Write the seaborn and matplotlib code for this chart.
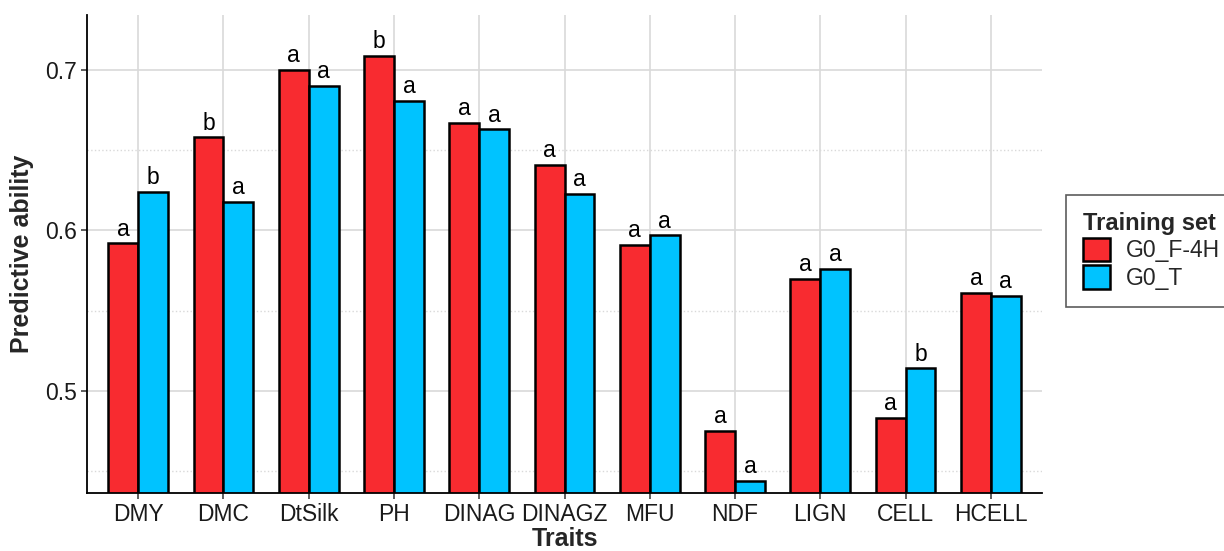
import pandas as pd
import numpy as np
import matplotlib
matplotlib.use("Agg")
import matplotlib.pyplot as plt
import seaborn as sns
from matplotlib.ticker import MultipleLocator

# Data
traits = ["DMY", "DMC", "DtSilk", "PH", "DINAG", "DINAGZ", "MFU", "NDF", "LIGN", "CELL", "HCELL"]
training_sets = ["G0_F-4H", "G0_T"]
g0_f4h = [0.592, 0.658, 0.700, 0.709, 0.667, 0.641, 0.591, 0.475, 0.570, 0.483, 0.561]
g0_t = [0.624, 0.618, 0.690, 0.681, 0.663, 0.623, 0.597, 0.444, 0.576, 0.514, 0.559]
letters_f4h = ["a", "b", "a", "b", "a", "a", "a", "a", "a", "a", "a"]
letters_t = ["b", "a", "a", "a", "a", "a", "a", "a", "a", "b", "a"]

df = pd.DataFrame({
    "Traits": traits * 2,
    "Training set": [training_sets[0]] * len(traits) + [training_sets[1]] * len(traits),
    "Predictive ability": g0_f4h + g0_t,
})

sns.set_theme(style="whitegrid")
plt.rcParams["font.family"] = ["Liberation Sans", "DejaVu Sans"]

fig = plt.figure(figsize=(12.24, 5.51), dpi=100)
ax = fig.add_axes([0.0711, 0.1053, 0.7802, 0.8675])

palette = {"G0_F-4H": "#F82B30", "G0_T": "#00C3FF"}
sns.barplot(data=df, x="Traits", y="Predictive ability", hue="Training set",
            order=traits, hue_order=training_sets, palette=palette,
            width=0.7, edgecolor="black", linewidth=1.8, saturation=1,
            errorbar=None, ax=ax)

# significance letters
for cont, labs in zip(ax.containers, [letters_f4h, letters_t]):
    ax.bar_label(cont, labels=labs, padding=2, fontsize=16.5, color="black")

ax.set_ylim(0.4364, 0.7343)
ax.set_xlim(-0.6, len(traits) - 0.4)
ax.yaxis.set_major_locator(MultipleLocator(0.1))
ax.yaxis.set_minor_locator(MultipleLocator(0.05))
ax.yaxis.set_major_formatter(matplotlib.ticker.FormatStrFormatter("%.1f"))
ax.set_axisbelow(True)
ax.grid(which="major", color="#D9D9D9", linewidth=1.2, linestyle="-")
ax.grid(which="minor", axis="y", color="#D9D9D9", linewidth=1.0, linestyle=":")

for s in ["top", "right"]:
    ax.spines[s].set_visible(False)
for s in ["left", "bottom"]:
    ax.spines[s].set_color("black")
    ax.spines[s].set_linewidth(1.3)

ax.tick_params(axis="both", which="major", length=4, width=1.1, color="#333333",
               labelsize=16.5, labelcolor="#1a1a1a", bottom=True, left=True, pad=3)
ax.tick_params(axis="y", which="minor", length=0)

ax.set_xlabel("Traits", fontsize=18, fontweight="bold", labelpad=1)
ax.set_ylabel("Predictive ability", fontsize=18, fontweight="bold", labelpad=8)

ax.legend_.remove()
handles = [plt.Rectangle((0, 0), 1, 1, facecolor=palette[k], edgecolor="black", linewidth=1.8)
           for k in training_sets]
leg = fig.legend(handles, training_sets, title="Training set", loc="upper left",
                 bbox_to_anchor=(0.871, 0.646), borderaxespad=0, frameon=True, fancybox=False,
                 fontsize=16.5, title_fontproperties={"weight": "bold", "size": 17},
                 handlelength=1.15, handleheight=1.2, handletextpad=0.7,
                 labelspacing=0.12, borderpad=0.75, alignment="left")
leg.get_frame().set_edgecolor("#333333")
leg.get_frame().set_linewidth(1.2)

fig.savefig("out.png", dpi=100, facecolor="white")
